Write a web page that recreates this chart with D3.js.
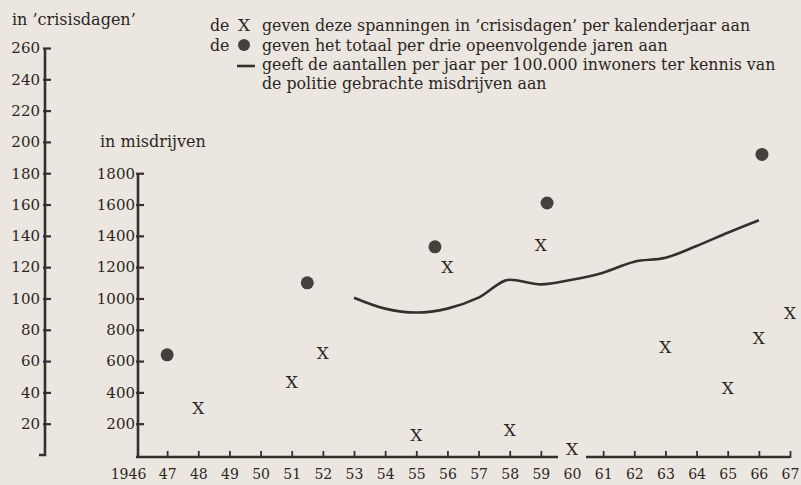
<!DOCTYPE html>
<html>

<head>
  <meta charset="utf-8">
  <script src="https://d3js.org/d3.v7.min.js"></script>
  <style>
    body {
      margin: 0;
      background: #ebe6df;
    }

    svg {
      display: block;
      font-family: "DejaVu Serif", serif;
      fill: #2b2624;
    }
  </style>
</head>

<body>
  <svg width="801" height="485"></svg>
  <script>
    // crisisdagen per kalenderjaar (X)
    const crisisYears = [1948, 1951, 1952, 1955, 1956, 1958, 1959, 1960, 1963, 1965, 1966, 1967];
    const crisisDays = [30, 47, 65, 13, 120, 16, 134, 4, 69, 43, 75, 91];

    // totaal per drie jaren (stippen), geplaatst zoals in de figuur
    const totalYears = [1947, 1951.5, 1955.6, 1959.2, 1966.1];
    const totalDays = [64, 110, 133, 161, 192];

    // misdrijven per 100.000 inwoners (lijn)
    const crimeYears = [1953, 1954, 1955, 1956, 1957, 1958, 1959, 1960, 1961, 1962, 1963, 1964, 1965, 1966];
    const crimeRate = [1005, 935, 910, 935, 1005, 1120, 1090, 1120, 1165, 1235, 1260, 1335, 1420, 1500];

    const leftTicks = [20, 40, 60, 80, 100, 120, 140, 160, 180, 200, 220, 240, 260];
    const rightTicks = [200, 400, 600, 800, 1000, 1200, 1400, 1600, 1800];
    const yearTicks = d3.range(1946, 1968);

    const legendLines = [
      "geven deze spanningen in \u2019crisisdagen\u2019 per kalenderjaar aan",
      "geven het totaal per drie opeenvolgende jaren aan",
      "geeft de aantallen per jaar per 100.000 inwoners ter kennis van",
      "de politie gebrachte misdrijven aan"
    ];

    const ink = "#35302e";
    const serif = "'DejaVu Serif', serif";
    const svg = d3.select("svg");

    const x = d3.scaleLinear().domain([1946, 1967]).range([136, 790]);
    const yDays = d3.scaleLinear().domain([0, 260]).range([455, 48]);
    const yCrime = d3.scaleLinear().domain([0, 1800]).range([455, 455 - 1800 * (407 / 2600)]);

    // linker as: crisisdagen
    const gLeft = svg.append("g")
      .attr("transform", "translate(45,0)")
      .call(d3.axisLeft(yDays).tickValues(leftTicks).tickFormat(d3.format("d"))
        .tickSizeInner(-6).tickSizeOuter(0).tickPadding(5));
    gLeft.select(".domain").attr("d", "M-6,455H0V48").attr("stroke", ink).attr("stroke-width", 2.6).attr("fill", "none");

    // tweede as: misdrijven
    const gRight = svg.append("g")
      .attr("transform", "translate(138,0)")
      .call(d3.axisLeft(yCrime).tickValues(rightTicks).tickFormat(d3.format("d"))
        .tickSizeInner(-6).tickSizeOuter(0).tickPadding(3));
    gRight.select(".domain").attr("d", "M0,457V173").attr("stroke", ink).attr("stroke-width", 2.6).attr("fill", "none");

    [gLeft, gRight].forEach(g => {
      g.attr("font-family", serif);
      g.selectAll(".tick line").attr("stroke", ink).attr("stroke-width", 2.2).attr("x1", -2);
      g.selectAll(".tick text")
        .attr("fill", "#2b2624")
        .style("font-size", "15px")
        .style("font-family", serif);
    });

    // horizontale as met onderbreking bij 1960
    const axisBreak = [1959.55, 1960.45];
    const gBottom = svg.append("g")
      .attr("transform", "translate(0,457)")
      .attr("font-family", serif)
      .call(d3.axisBottom(x).tickValues(yearTicks).tickSizeInner(-6).tickSizeOuter(0).tickPadding(12)
        .tickFormat(d => d === 1946 ? "1946" : String(d).slice(2)));
    gBottom.select(".domain").remove();
    gBottom.insert("path", ":first-child")
      .attr("d", `M${x(1946)},0H${x(axisBreak[0])}M${x(axisBreak[1])},0H${x(1967)}`)
      .attr("stroke", ink).attr("stroke-width", 2.6);
    gBottom.selectAll(".tick line")
      .attr("stroke", ink).attr("stroke-width", 1.8).attr("y2", -6).attr("y1", 1)
      .attr("display", d => (d === 1946 || d === 1960) ? "none" : null);
    gBottom.selectAll(".tick text")
      .attr("fill", "#2b2624")
      .style("font-size", "14px")
      .style("font-family", serif)
      .attr("dx", d => d === 1946 ? -8 : 0);

    // lijn misdrijven
    const line = d3.line()
      .x((d, i) => x(crimeYears[i]))
      .y(d => yCrime(d))
      .curve(d3.curveMonotoneX);
    svg.append("path")
      .datum(crimeRate)
      .attr("d", line)
      .attr("fill", "none")
      .attr("stroke", ink)
      .attr("stroke-width", 2.6)
      .attr("stroke-linejoin", "round");

    // stippen
    svg.append("g").selectAll("circle")
      .data(totalDays)
      .join("circle")
      .attr("cx", (d, i) => x(totalYears[i]))
      .attr("cy", d => yDays(d))
      .attr("r", 6.5)
      .attr("fill", "#45403e");

    // X-en
    svg.append("g").selectAll("text")
      .data(crisisDays)
      .join("text")
      .attr("x", (d, i) => x(crisisYears[i]))
      .attr("y", d => yDays(d))
      .attr("dy", "0.36em")
      .attr("text-anchor", "middle")
      .style("font-size", "17px")
      .text("X");

    // astitels
    svg.append("text").attr("x", 12).attr("y", 25).style("font-size", "16px").text("in \u2019crisisdagen\u2019");
    svg.append("text").attr("x", 100).attr("y", 147).style("font-size", "16px").text("in  misdrijven");

    // legenda
    const legend = svg.append("g").style("font-size", "15.8px");
    const lineY = [31, 51, 70, 89];
    legend.selectAll("text.item")
      .data(legendLines)
      .join("text")
      .attr("class", "item")
      .attr("x", 262)
      .attr("y", (d, i) => lineY[i])
      .text(d => d);
    legend.append("text").attr("x", 210).attr("y", lineY[0]).text("de");
    legend.append("text").attr("x", 238).attr("y", lineY[0]).style("font-size", "17px").text("X");
    legend.append("text").attr("x", 210).attr("y", lineY[1]).text("de");
    legend.append("circle").attr("cx", 244).attr("cy", lineY[1] - 6).attr("r", 6).attr("fill", "#45403e");
    legend.append("line")
      .attr("x1", 237).attr("x2", 255)
      .attr("y1", lineY[2] - 4).attr("y2", lineY[2] - 4)
      .attr("stroke", ink).attr("stroke-width", 2.6);
  </script>
</body>

</html>
